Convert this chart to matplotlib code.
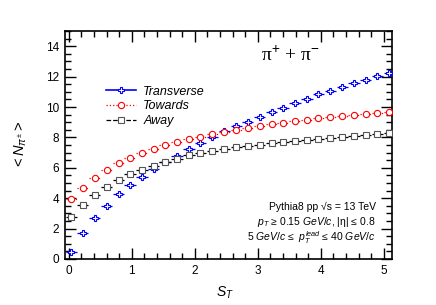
import matplotlib
matplotlib.use("Agg")
import matplotlib.pyplot as plt
from matplotlib.lines import Line2D
from matplotlib.ticker import MultipleLocator
import numpy as np

plt.rcParams['font.family'] = ['Liberation Sans', 'DejaVu Sans']
plt.rcParams['mathtext.fontset'] = 'custom'
plt.rcParams['mathtext.rm'] = 'Liberation Sans'
plt.rcParams['mathtext.it'] = 'Liberation Sans:italic'
plt.rcParams['mathtext.bf'] = 'Liberation Sans:bold'

# S_T bin centres
st = [0.04, 0.22, 0.41, 0.60, 0.79, 0.97, 1.16, 1.35, 1.53, 1.72,
      1.91, 2.09, 2.28, 2.47, 2.66, 2.84, 3.03, 3.22, 3.40, 3.59,
      3.78, 3.96, 4.15, 4.34, 4.53, 4.71, 4.90, 5.09]
st_halfwidth = 0.09

# <N> per region
transverse = [0.48, 1.73, 2.72, 3.51, 4.26, 4.85, 5.39, 5.90, 6.36, 6.80,
              7.22, 7.61, 8.05, 8.40, 8.75, 9.01, 9.34, 9.65, 9.97, 10.28,
              10.55, 10.83, 11.07, 11.30, 11.56, 11.78, 12.02, 12.25]
towards = [3.95, 4.67, 5.33, 5.86, 6.30, 6.64, 6.95, 7.24, 7.48, 7.71,
           7.88, 8.05, 8.22, 8.36, 8.51, 8.60, 8.73, 8.86, 8.96, 9.08,
           9.14, 9.25, 9.34, 9.43, 9.47, 9.54, 9.60, 9.69]
away = [2.76, 3.55, 4.21, 4.74, 5.20, 5.59, 5.86, 6.14, 6.38, 6.60,
        6.84, 6.99, 7.13, 7.24, 7.35, 7.43, 7.52, 7.61, 7.69, 7.76,
        7.83, 7.89, 7.98, 8.03, 8.11, 8.16, 8.22, 8.31]

fig = plt.figure(figsize=(4.36, 3.05), dpi=100)
ax = fig.add_axes([0.149, 0.151, 0.750, 0.747])

series = [
    (transverse, 'blue', 'P', '-', 'Transverse'),
    (towards, 'red', 'o', ':', 'Towards'),
    (away, 'black', 's', '--', 'Away'),
]

handles = []
for vals, col, mk, ls, name in series:
    mcol = '#555555' if col == 'black' else col
    eb = ax.errorbar(st, vals, xerr=st_halfwidth, fmt=mk, color=col,
                     ms=4.5, mfc='white', mec=mcol, mew=0.8, elinewidth=0.9,
                     capsize=0, zorder=3)
    if ls == ':':
        eb[2][0].set_linestyle((0, (1, 1.5)))
    handles.append(Line2D([], [], color=col, ls=ls, lw=1.2 if ls == '-' else 0.9,
                          marker=mk, ms=4.5, mfc='white', mec=mcol, mew=0.8))

ax.set_xlim(-0.06, 5.13)
ax.set_ylim(0, 15)
ax.xaxis.set_major_locator(MultipleLocator(1))
ax.xaxis.set_minor_locator(MultipleLocator(0.2))
ax.yaxis.set_major_locator(MultipleLocator(2))
ax.yaxis.set_minor_locator(MultipleLocator(0.5))
ax.tick_params(which='both', direction='in', top=True, right=True, width=1.0)
ax.tick_params(which='major', length=8, labelsize=8.5, pad=4)
ax.tick_params(which='minor', length=4)
for sp in ax.spines.values():
    sp.set_linewidth(1.2)

ax.set_xlabel(r'$S_{T}$', fontsize=10, x=0.49, labelpad=6)
ax.set_ylabel(r'$<N_{\pi^{\pm}}>$', fontsize=10.5, labelpad=12)

ax.legend(handles, ['Transverse', 'Towards', 'Away'], loc='upper left',
          bbox_to_anchor=(0.09, 0.81), frameon=False, handlelength=2.4,
          handletextpad=0.6, labelspacing=0.22,
          prop={'style': 'italic', 'size': 9})

ax.text(0.69, 0.895, r'π$^{+}$ + π$^{-}$', transform=ax.transAxes,
        ha='center', va='center', fontsize=14, family='Liberation Serif')

ax.text(0.95, 0.228, 'Pythia8 pp √s = 13 TeV', transform=ax.transAxes,
        ha='right', va='center', fontsize=7.5)
ax.text(0.95, 0.162, r'$p_{T}$ ≥ 0.15 $GeV/c$, |η| ≤ 0.8', transform=ax.transAxes,
        ha='right', va='center', fontsize=7.5)
ax.text(0.95, 0.092, r'5 $GeV/c$ ≤  $p_{T}^{lead}$ ≤ 40 $GeV/c$', transform=ax.transAxes,
        ha='right', va='center', fontsize=7.5)

fig.savefig('out.png', dpi=100)
